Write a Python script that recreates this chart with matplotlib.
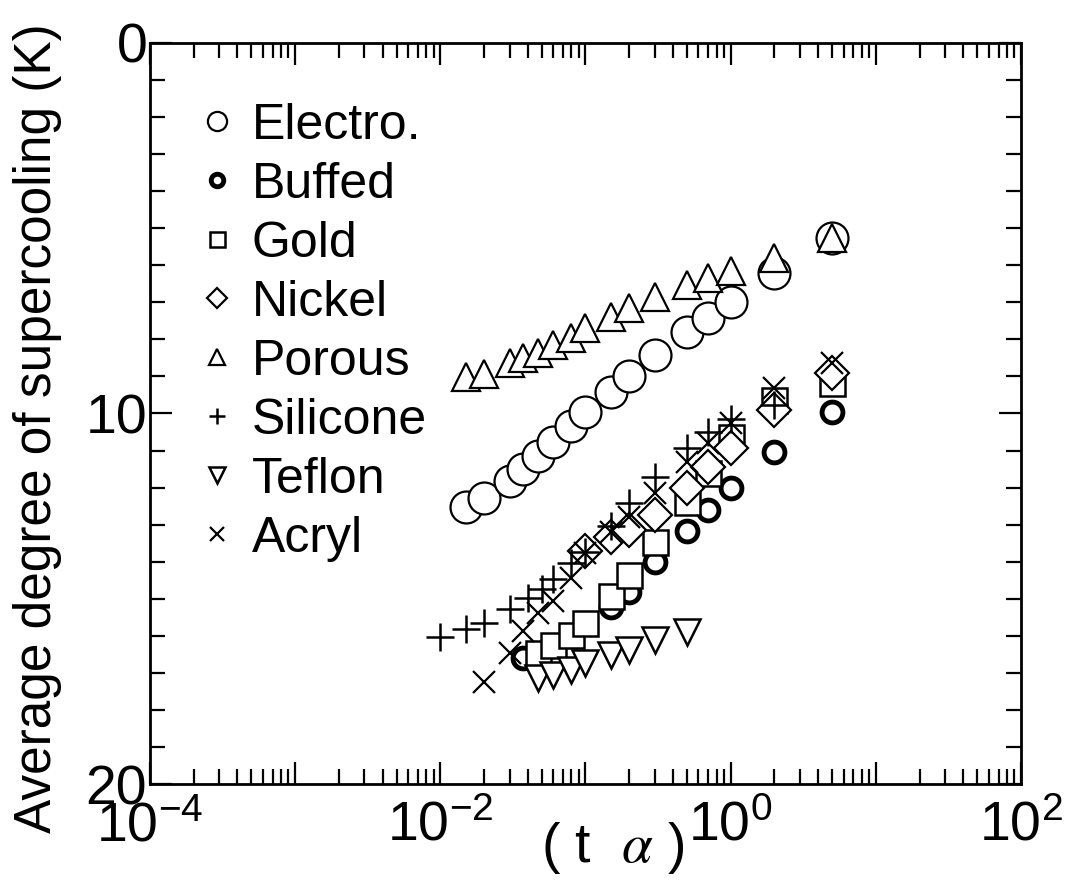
import matplotlib
matplotlib.use("Agg")
import matplotlib.pyplot as plt
import numpy as np
from matplotlib.ticker import LogLocator, FuncFormatter, MultipleLocator, NullFormatter

plt.rcParams['font.family'] = ['Liberation Sans', 'DejaVu Sans']
plt.rcParams['mathtext.fontset'] = 'stix'

# data (x = t*alpha, y = supercooling in K)
x_electro = [0.015, 0.02, 0.03, 0.037, 0.047, 0.06, 0.08, 0.1, 0.15, 0.2, 0.3, 0.5, 0.7, 1.0, 2.0, 5.0]
y_electro = [12.52, 12.28, 11.82, 11.50, 11.15, 10.78, 10.34, 9.97, 9.41, 8.99, 8.42, 7.81, 7.41, 6.98, 6.22, 5.27]

x_buffed = [0.037, 0.15, 0.2, 0.3, 0.5, 0.7, 1.0, 2.0, 5.0]
y_buffed = [16.61, 15.21, 14.81, 14.00, 13.17, 12.60, 12.02, 11.03, 9.95]

x_gold = [0.047, 0.06, 0.08, 0.1, 0.15, 0.2, 0.3, 0.5, 0.7, 1.0, 2.0, 5.0]
y_gold = [16.47, 16.25, 15.98, 15.66, 14.93, 14.36, 13.46, 12.38, 11.60, 10.63, 9.64, 9.18]

x_nickel = [0.1, 0.15, 0.2, 0.3, 0.5, 0.7, 1.0, 2.0, 5.0]
y_nickel = [13.71, 13.33, 13.14, 12.74, 12.01, 11.44, 10.93, 9.91, 8.91]

x_porous = [0.015, 0.02, 0.03, 0.037, 0.047, 0.06, 0.08, 0.1, 0.15, 0.2, 0.3, 0.5, 0.7, 1.0, 2.0, 5.0]
y_porous = [9.01, 8.93, 8.65, 8.51, 8.38, 8.15, 7.97, 7.70, 7.39, 7.16, 6.85, 6.53, 6.35, 6.15, 5.81, 5.27]

x_silicone = [0.01, 0.015, 0.02, 0.03, 0.04, 0.05, 0.06, 0.08, 0.1, 0.15, 0.2, 0.3, 0.5, 0.7, 1.0, 2.0]
y_silicone = [16.02, 15.83, 15.65, 15.29, 14.97, 14.75, 14.48, 14.03, 13.75, 13.05, 12.42, 11.72, 10.94, 10.49, 10.16, 9.77]

x_teflon = [0.047, 0.06, 0.08, 0.1, 0.15, 0.2, 0.3, 0.5]
y_teflon = [17.15, 17.06, 16.92, 16.74, 16.52, 16.38, 16.11, 15.89]

x_acryl = [0.02, 0.03, 0.037, 0.047, 0.06, 0.08, 0.1, 0.15, 0.2, 0.3, 0.5, 0.7, 1.0, 2.0, 5.0]
y_acryl = [17.24, 16.47, 15.87, 15.39, 15.06, 14.45, 13.77, 13.19, 12.79, 12.15, 11.30, 10.80, 10.26, 9.32, 8.65]

fig = plt.figure(figsize=(10.68, 8.9), dpi=100)
ax = fig.add_axes([0.1404, 0.1191, 0.8156, 0.8326])

ax.plot(x_electro, y_electro, 'o', ms=23, mfc='white', mec='black', mew=1.6, label='Electro.')
ax.plot(x_buffed, y_buffed, 'o', ms=15, mfc='white', mec='black', mew=3.5, label='Buffed')
ax.plot(x_gold, y_gold, 's', ms=18, mfc='white', mec='black', mew=1.8, label='Gold')
ax.plot(x_nickel, y_nickel, 'D', ms=17, mfc='white', mec='black', mew=1.6, label='Nickel')
ax.plot(x_porous, y_porous, '^', ms=20, mfc='white', mec='black', mew=1.6, label='Porous')
ax.plot(x_silicone, y_silicone, '+', ms=20, mec='black', mew=1.8, label='Silicone')
ax.plot(x_teflon, y_teflon, 'v', ms=19, mfc='white', mec='black', mew=1.8, label='Teflon')
ax.plot(x_acryl, y_acryl, 'x', ms=16, mec='black', mew=1.6, label='Acryl')

ax.set_xscale('log')
ax.set_xlim(1e-4, 1e2)
ax.set_ylim(20, 0)

ax.xaxis.set_major_locator(LogLocator(base=10, numticks=20))
ax.xaxis.set_minor_locator(LogLocator(base=10, subs=np.arange(2, 10), numticks=100))
ax.xaxis.set_minor_formatter(NullFormatter())
def xfmt(v, pos):
    e = int(round(np.log10(v)))
    if e % 2 == 0:
        return r'$\mathregular{10^{%d}}$' % e
    return ''
ax.xaxis.set_major_formatter(FuncFormatter(xfmt))

ax.yaxis.set_major_locator(MultipleLocator(10))
ax.yaxis.set_minor_locator(MultipleLocator(1))

ax.tick_params(which='both', direction='in', top=True, right=True, width=1.6, colors='black')
ax.tick_params(which='major', length=16, labelsize=40)
ax.tick_params(axis='y', which='major', pad=2)
ax.tick_params(axis='x', which='major', pad=12)
ax.tick_params(which='minor', length=11)
for s in ax.spines.values():
    s.set_linewidth(2)

ax.set_ylabel('Average degree of supercooling (K)', fontsize=37)
ax.yaxis.set_label_coords(-0.101, 0.48)
ax.set_xlabel(r'( t  $\alpha$ )', fontsize=40)
ax.xaxis.set_label_coords(0.531, -0.048)

ax.legend(loc='upper left', frameon=False, fontsize=36, markerscale=0.6,
          handlelength=0.7, handletextpad=0.35, labelspacing=0.26,
          borderaxespad=0.2, bbox_to_anchor=(0.022, 0.96))

fig.savefig('out.png', dpi=100)
